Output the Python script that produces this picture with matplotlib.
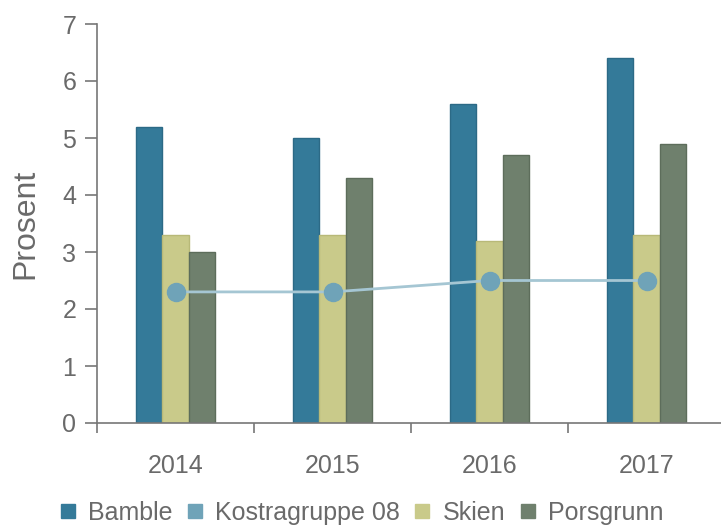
import numpy as np
from matplotlib import pyplot as plt
from matplotlib.lines import Line2D

plt.rcParams['font.family'] = ['Liberation Sans', 'DejaVu Sans']

years = ['2014', '2015', '2016', '2017']
bamble = [5.2, 5.0, 5.6, 6.4]
kostra = [2.3, 2.3, 2.5, 2.5]
skien = [3.3, 3.3, 3.2, 3.3]
porsgrunn = [3.0, 4.3, 4.7, 4.9]

c_bamble = '#347a99'
c_kostra = '#6fa3b8'
c_skien = '#c9ca8a'
c_pors = '#6f806d'
grey = '#6a6a6a'

fig = plt.figure(figsize=(7.21, 5.27), dpi=100)
ax = fig.add_axes([97/721, 1-423/527, 628/721, 399/527])

x = np.arange(len(years))
w = 0.169
ax.bar(x - w, bamble, w, color=c_bamble, edgecolor='#2c6a86', linewidth=1, zorder=2)
ax.bar(x, skien, w, color=c_skien, edgecolor='#b8b978', linewidth=1, zorder=2)
ax.bar(x + w, porsgrunn, w, color=c_pors, edgecolor='#5d6d5b', linewidth=1, zorder=2)
ax.plot(x, kostra, color='#a5c6d3', linewidth=2, zorder=3)
ax.plot(x, kostra, linestyle='none', marker='o', markersize=13, color=c_kostra, zorder=4)

ax.set_xlim(-0.5, 3.5)
ax.set_ylim(0, 7)
ax.set_xticks(np.arange(-0.5, 4, 1))
ax.set_xticklabels([])
ax.set_xticks(x, minor=True)
ax.set_xticklabels(years, minor=True)
ax.tick_params(axis='x', which='major', length=7, width=1.2, color='#777777', direction='out')
ax.tick_params(axis='x', which='minor', length=0, labelsize=18, labelcolor=grey, pad=22)
ax.set_yticks(range(0, 8))
ax.tick_params(axis='y', length=9, width=1.2, color='#777777', labelsize=18, labelcolor=grey, pad=6)

for s in ['top', 'right']:
    ax.spines[s].set_visible(False)
for s in ['left', 'bottom']:
    ax.spines[s].set_color('#777777')
    ax.spines[s].set_linewidth(1.2)

ax.set_ylabel('Prosent', fontsize=23, color=grey, labelpad=16)

handles = [Line2D([], [], linestyle='none', marker='s', markersize=10, color=c)
           for c in [c_bamble, c_kostra, c_skien, c_pors]]
fig.legend(handles, ['Bamble', 'Kostragruppe 08', 'Skien', 'Porsgrunn'],
           loc='center', bbox_to_anchor=(0.5, 1-513/527), ncol=4, frameon=False,
           fontsize=18, labelcolor=grey, handletextpad=0.4, columnspacing=0.5,
           handlelength=0.8)

fig.savefig('out.png', dpi=100)
